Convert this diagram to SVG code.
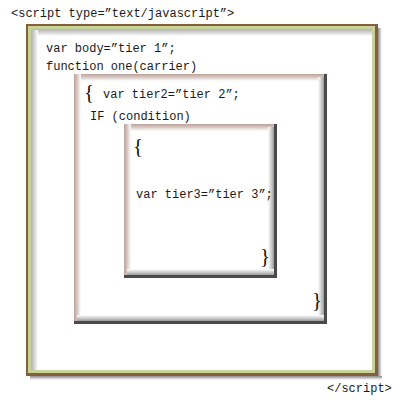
<svg xmlns="http://www.w3.org/2000/svg" width="400" height="400" viewBox="0 0 400 400">
<style>
.code{font-family:"Liberation Mono","Courier New",monospace;font-size:12px;fill:#1a1a1a}
.brace{font-family:"Liberation Serif","Times New Roman",serif;font-size:21px;fill:#111}
</style>
<defs>
<linearGradient id="shT" x1="0" y1="0" x2="0" y2="1"><stop offset="0" stop-color="#b8b8b8"/><stop offset="1" stop-color="#fff"/></linearGradient>
<linearGradient id="shL" x1="0" y1="0" x2="1" y2="0"><stop offset="0" stop-color="#b8b8b8"/><stop offset="1" stop-color="#fff"/></linearGradient>
<linearGradient id="rbT" x1="0" y1="0" x2="0" y2="1"><stop offset="0" stop-color="#bca29a"/><stop offset="0.5" stop-color="#d9cbc6"/><stop offset="1" stop-color="#fff"/></linearGradient>
<linearGradient id="rbL" x1="0" y1="0" x2="1" y2="0"><stop offset="0" stop-color="#bca29a"/><stop offset="0.5" stop-color="#d9cbc6"/><stop offset="1" stop-color="#fff"/></linearGradient>
<linearGradient id="grR" x1="0" y1="0" x2="1" y2="0"><stop offset="0" stop-color="#fff"/><stop offset="0.5" stop-color="#d0d0d0"/><stop offset="1" stop-color="#9a9a9a"/></linearGradient>
<linearGradient id="grB" x1="0" y1="0" x2="0" y2="1"><stop offset="0" stop-color="#fff"/><stop offset="0.5" stop-color="#d0d0d0"/><stop offset="1" stop-color="#9a9a9a"/></linearGradient>
<linearGradient id="dsR" x1="0" y1="0" x2="1" y2="0"><stop offset="0" stop-color="#8a8a8a"/><stop offset="1" stop-color="#fff"/></linearGradient>
<linearGradient id="dsB" x1="0" y1="0" x2="0" y2="1"><stop offset="0" stop-color="#8a8a8a"/><stop offset="1" stop-color="#fff"/></linearGradient>
</defs>
<rect width="400" height="400" fill="#fff"/>
<text class="code" x="11" y="17">&lt;script type=”text/javascript”&gt;</text>

<g id="outer">
  <rect x="378" y="28" width="4" height="351" fill="url(#dsR)"/>
  <rect x="30" y="376" width="352" height="4" fill="url(#dsB)"/>
  <rect x="26" y="24" width="352" height="352" fill="#84603a"/>
  <rect x="28" y="26" width="347" height="347" fill="#c6d296"/>
  <rect x="31" y="29" width="341" height="341" fill="#c0b8a6"/>
  <rect x="32" y="30" width="340" height="340" fill="#fff"/>
  <rect x="32" y="30" width="340" height="6" fill="url(#shT)"/>
  <rect x="32" y="30" width="6" height="340" fill="url(#shL)"/>
  <text class="code" x="46" y="52">var body=”tier 1”;</text>
  <text class="code" x="46" y="70">function one(carrier)</text>
</g>

<g id="middle">
  <rect x="74" y="74" width="253" height="250" fill="#fff"/>
  <rect x="74" y="74" width="253" height="7" fill="url(#rbT)"/>
  <rect x="74" y="74" width="7" height="250" fill="url(#rbL)"/>
  <rect x="318" y="77" width="6" height="244" fill="url(#grR)"/>
  <rect x="77" y="315" width="247" height="6" fill="url(#grB)"/>
  <rect x="324" y="74" width="3" height="250" fill="#4a4a4a"/>
  <rect x="74" y="321" width="253" height="3" fill="#4a4a4a"/>
  <text class="brace" x="84" y="99">{</text>
  <text class="code" x="103" y="98">var tier2=”tier 2”;</text>
  <text class="code" x="90" y="120">IF (condition)</text>
  <text class="brace" x="312" y="307">}</text>
</g>

<g id="inner">
  <rect x="124" y="124" width="153" height="154" fill="#fff"/>
  <rect x="124" y="124" width="153" height="7" fill="url(#rbT)"/>
  <rect x="124" y="124" width="7" height="154" fill="url(#rbL)"/>
  <rect x="268" y="127" width="6" height="148" fill="url(#grR)"/>
  <rect x="127" y="269" width="147" height="6" fill="url(#grB)"/>
  <rect x="274" y="124" width="3" height="154" fill="#4a4a4a"/>
  <rect x="124" y="275" width="153" height="3" fill="#4a4a4a"/>
  <text class="brace" x="133" y="153">{</text>
  <text class="code" x="136" y="198">var tier3=”tier 3”;</text>
  <text class="brace" x="260" y="263">}</text>
</g>

<g id="connectors"/>
<text class="code" x="327" y="392">&lt;/script&gt;</text>
</svg>
